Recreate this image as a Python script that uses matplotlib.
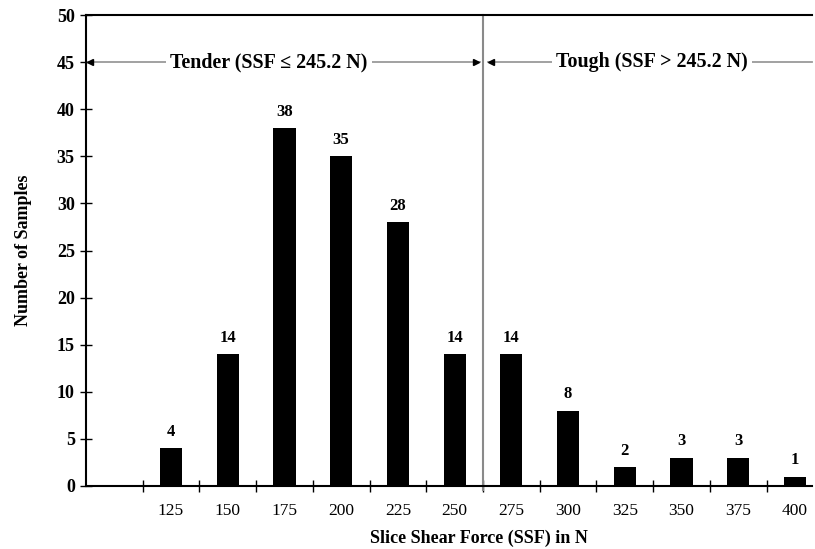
import matplotlib
matplotlib.use("Agg")
import matplotlib.pyplot as plt
import numpy as np

categories = ["", "125", "150", "175", "200", "225", "250", "275", "300", "325", "350", "375", "400"]
counts = [0, 4, 14, 38, 35, 28, 14, 14, 8, 2, 3, 3, 1]
yticks = list(range(0, 55, 5))

plt.rcParams['font.family'] = ['Liberation Serif', 'DejaVu Serif']

fig = plt.figure(figsize=(8.15, 5.49), dpi=100)
ax = fig.add_axes([85.9/815, 1-486/549, (812-85.9)/815, (486-15)/549])

x = np.arange(len(categories))
vals = np.array(counts)
mask = np.array([c != "" for c in categories])
ax.bar(x[mask], vals[mask], width=0.39, color='black', zorder=3)
for xi, v in zip(x[mask], vals[mask]):
    ax.text(xi, v + 0.9, str(v), ha='center', va='bottom', fontsize=12, fontweight='bold')

ax.set_xlim(-0.5, 12.3)
ax.set_ylim(0, 50)
ax.set_yticks(yticks)
ax.set_yticklabels([str(t) for t in yticks], fontsize=13, fontweight='bold')
ax.set_xticks(x[mask])
ax.set_xticklabels([c for c in categories if c], fontsize=12.5)
ax.tick_params(axis='x', which='major', length=0, pad=12)
ax.set_xticks(np.arange(0.5, 12, 1.0), minor=True)
ax.tick_params(axis='x', which='minor', direction='inout', length=8, width=1)
ax.tick_params(axis='y', direction='inout', length=8, width=1, pad=4)

for s in ['left', 'bottom', 'top']:
    ax.spines[s].set_linewidth(1.5)
ax.spines['right'].set_visible(False)

ax.set_ylabel("Number of Samples", fontsize=13, fontweight='bold')
ax.set_xlabel("Slice Shear Force (SSF) in N", fontsize=13, fontweight='bold')
ax.yaxis.set_label_coords(-54/726.1, 0.5)
ax.xaxis.set_label_coords((479-85.9)/726.1, -44/471)

# threshold divider
ax.axvline(6.5, color='#8a8a8a', lw=1.5, ymin=-0.008, clip_on=False, zorder=2)

# region annotations
y_ann = 45
ax.plot([-0.5, 6.45], [y_ann, y_ann], color='#9a9a9a', lw=1.3, zorder=2, clip_on=False)
ax.plot([6.58, 12.3], [y_ann, y_ann], color='#9a9a9a', lw=1.3, zorder=2, clip_on=False)
ax.plot([-0.42], [y_ann], marker='<', color='black', ms=5, zorder=4, clip_on=False)
ax.plot([6.38], [y_ann], marker='>', color='black', ms=5, zorder=4, clip_on=False)
ax.plot([6.64], [y_ann], marker='<', color='black', ms=5, zorder=4, clip_on=False)
ax.text(2.73, y_ann, "Tender (SSF \u2264 245.2 N)", ha='center', va='center', fontsize=14.4,
        fontweight='bold', bbox=dict(facecolor='white', edgecolor='none', pad=3), zorder=5)
ax.text(9.48, y_ann, "Tough (SSF > 245.2 N)", ha='center', va='center', fontsize=14.4,
        fontweight='bold', bbox=dict(facecolor='white', edgecolor='none', pad=3), zorder=5)

fig.savefig("out.png", dpi=100)
